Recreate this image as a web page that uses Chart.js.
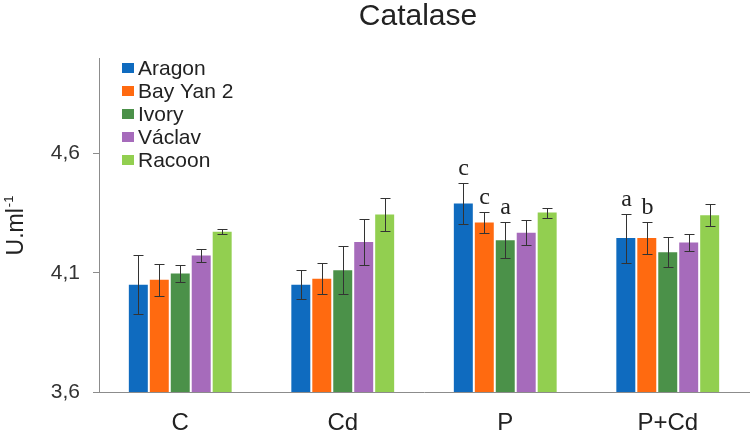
<!DOCTYPE html>
<html>
<head>
<meta charset="utf-8">
<script src="https://cdn.jsdelivr.net/npm/chart.js@4/dist/chart.umd.min.js"></script>
<style>
  html, body { margin: 0; padding: 0; background: #fff; }
  #wrap { width: 751px; height: 434px; position: relative; }
</style>
</head>
<body>
<div id="wrap"><canvas id="chart"></canvas></div>
<script>
// chart values
const categories = ["C", "Cd", "P", "P+Cd"];
const seriesNames = ["Aragon", "Bay Yan 2", "Ivory", "Václav", "Racoon"];
const yTicks = [3.6, 4.1, 4.6];

const aragon = [4.05, 4.05, 4.39, 4.245];
const bayYan = [4.07, 4.075, 4.31, 4.245];
const ivory  = [4.097, 4.11, 4.236, 4.186];
const vaclav = [4.172, 4.229, 4.267, 4.227];
const racoon = [4.272, 4.344, 4.352, 4.341];

const aragonErr = [0.124, 0.062, 0.086, 0.103];
const bayYanErr = [0.068, 0.066, 0.044, 0.067];
const ivoryErr  = [0.035, 0.10, 0.076, 0.062];
const vaclavErr = [0.027, 0.096, 0.052, 0.034];
const racoonErr = [0.011, 0.068, 0.021, 0.046];

const aragonLetters = ["", "", "c", "a"];
const bayYanLetters = ["", "", "c", "b"];
const ivoryLetters  = ["", "", "a", ""];
const vaclavLetters = ["", "", "", ""];
const racoonLetters = ["", "", "", ""];

const colors = ["#0f6bbf", "#ff6a10", "#4b9149", "#a66bbb", "#92cf50"];
const axisColor = "#8c8c8c";
const sans = "'Liberation Sans', Arial, sans-serif";

const values = [aragon, bayYan, ivory, vaclav, racoon];
const errors = [aragonErr, bayYanErr, ivoryErr, vaclavErr, racoonErr];
const letters = [aragonLetters, bayYanLetters, ivoryLetters, vaclavLetters, racoonLetters];

// error bars + significance letters
const errorBarPlugin = {
  id: "errorBars",
  afterDatasetsDraw(chart) {
    const ctx = chart.ctx;
    const y = chart.scales.y;
    ctx.save();
    ctx.strokeStyle = "#333";
    ctx.lineWidth = 1;
    chart.data.datasets.forEach((ds, di) => {
      const meta = chart.getDatasetMeta(di);
      meta.data.forEach((bar, i) => {
        const v = ds.data[i];
        const e = errors[di][i];
        const top = Math.round(y.getPixelForValue(v + e)) + 0.5;
        const bot = Math.round(y.getPixelForValue(v - e)) + 0.5;
        const x = Math.round(bar.x) + 0.5;
        ctx.beginPath();
        ctx.moveTo(x, top); ctx.lineTo(x, bot);
        ctx.moveTo(x - 5, top); ctx.lineTo(x + 5, top);
        ctx.moveTo(x - 5, bot); ctx.lineTo(x + 5, bot);
        ctx.stroke();
        const t = letters[di][i];
        if (t) {
          ctx.fillStyle = "#222";
          ctx.font = "24px 'Liberation Serif', 'Times New Roman', serif";
          ctx.textAlign = "center";
          ctx.textBaseline = "alphabetic";
          ctx.fillText(t, x, top - 9);
        }
      });
    });
    ctx.restore();
  }
};

// title, y axis title with superscript, legend inside the plot
const decorPlugin = {
  id: "decor",
  afterDraw(chart) {
    const ctx = chart.ctx;
    ctx.save();
    ctx.fillStyle = "#222";
    ctx.font = "30px " + sans;
    ctx.textAlign = "center";
    ctx.textBaseline = "middle";
    ctx.fillText("Catalase", 418, 17);

    // y axis title
    ctx.save();
    ctx.translate(23, 226);
    ctx.rotate(-Math.PI / 2);
    ctx.font = "23px " + sans;
    ctx.textAlign = "left";
    ctx.textBaseline = "alphabetic";
    const main = "U.ml";
    ctx.font = "23px " + sans;
    const w1 = ctx.measureText(main).width;
    ctx.font = "13px " + sans;
    const w2 = ctx.measureText("-1").width;
    const start = -(w1 + w2) / 2;
    ctx.font = "23px " + sans;
    ctx.fillText(main, start, 0);
    ctx.font = "13px " + sans;
    ctx.fillText("-1", start + w1 + 1, -10);
    ctx.restore();

    // legend
    ctx.font = "21px " + sans;
    ctx.textAlign = "left";
    ctx.textBaseline = "middle";
    chart.data.datasets.forEach((ds, i) => {
      const cy = 68 + i * 23;
      ctx.fillStyle = ds.backgroundColor;
      ctx.fillRect(122, cy - 5, 12, 10);
      ctx.fillStyle = "#222";
      ctx.fillText(ds.label, 138, cy + 1);
    });
    ctx.restore();
  }
};

const datasets = seriesNames.map((name, i) => ({
  label: name,
  data: values[i],
  backgroundColor: colors[i],
  borderWidth: 0,
  categoryPercentage: 0.645,
  barPercentage: 0.905
}));

new Chart(document.getElementById("chart"), {
  type: "bar",
  data: { labels: categories, datasets: datasets },
  options: {
    responsive: true,
    maintainAspectRatio: false,
    animation: false,
    layout: { padding: { top: 58, right: 2, left: 0, bottom: 0 } },
    plugins: {
      legend: { display: false },
      title: { display: false },
      tooltip: { enabled: false }
    },
    scales: {
      x: {
        grid: { display: true, drawOnChartArea: false, drawTicks: false },
        border: { display: true, color: axisColor, width: 1 },
        ticks: { color: "#222", font: { family: sans, size: 24 }, padding: 17 },
        afterFit(scale) { scale.height = 42; }
      },
      y: {
        min: 3.6,
        max: 5.0,
        grid: { display: true, drawOnChartArea: false, drawTicks: true, tickLength: 6, color: axisColor },
        border: { display: true, color: axisColor, width: 1 },
        ticks: {
          color: "#333",
          font: { family: sans, size: 21 },
          padding: 13,
          callback: v => v.toFixed(1).replace(".", ",")
        },
        afterBuildTicks(scale) { scale.ticks = yTicks.map(v => ({ value: v })); },
        afterFit(scale) { scale.width = 99; }
      }
    }
  },
  plugins: [errorBarPlugin, decorPlugin]
});
</script>
</body>
</html>
